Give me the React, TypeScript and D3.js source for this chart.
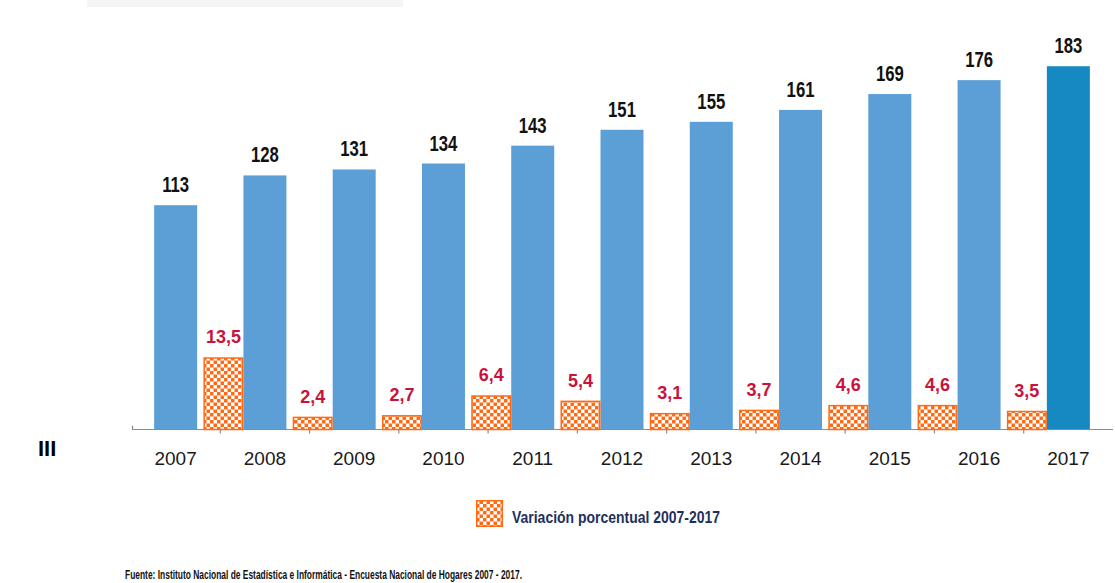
import React from "react";
import * as d3 from "d3";

const years = ["2007", "2008", "2009", "2010", "2011", "2012", "2013", "2014", "2015", "2016", "2017"];
const values = [113, 128, 131, 134, 143, 151, 155, 161, 169, 176, 183];
const variationYears = ["2008", "2009", "2010", "2011", "2012", "2013", "2014", "2015", "2016", "2017"];
const variations = [13.5, 2.4, 2.7, 6.4, 5.4, 3.1, 3.7, 4.6, 4.6, 3.5];
const legendLabel = "Variación porcentual 2007-2017";
const source = "Fuente: Instituto Nacional de Estadística e Informática - Encuesta Nacional de Hogares 2007 - 2017.";

const W = 1115;
const H = 583;
const baseY = 429.5;
const sans = "'Liberation Sans', Arial, sans-serif";

const fmt = (v: number) => v.toFixed(1).replace(".", ",");

export default function App() {
  const x = d3.scaleBand<string>().domain(years).range([131, 1113]).padding(0);
  const yMain = d3.scaleLinear().domain([0, 200]).range([baseY, baseY - 397]);
  const yVar = d3.scaleLinear().domain([0, 20]).range([baseY, baseY - 107]);
  const blueW = 43;
  const orangeW = 40;
  const center = (yr: string) => (x(yr) as number) + x.bandwidth() / 2;
  const boundaries = years.slice(1).map((yr) => x(yr) as number);

  return (
    <svg width={W} height={H} style={{ position: "absolute", left: 0, top: 0, background: "#fff" }}>
      <defs>
        <pattern id="checker" width={7} height={7} patternUnits="userSpaceOnUse">
          <rect width={7} height={7} fill="#ffffff" />
          <rect width={3.5} height={3.5} fill="#ff6a13" />
          <rect x={3.5} y={3.5} width={3.5} height={3.5} fill="#ff6a13" />
        </pattern>
      </defs>
      <rect x={87} y={0} width={316} height={7} fill="#f5f5f5" />

      {years.map((yr, i) => {
        const cx = center(yr);
        const top = yMain(values[i]);
        return (
          <g key={yr}>
            <rect
              x={cx - blueW / 2}
              y={top}
              width={blueW}
              height={baseY - top}
              fill={yr === "2017" ? "#1789c2" : "#5b9fd6"}
            />
            <text
              transform={`translate(${cx},${top - 13}) scale(0.76,1)`}
              textAnchor="middle"
              fontFamily={sans}
              fontWeight="bold"
              fontSize={22}
              fill="#111"
            >
              {values[i]}
            </text>
          </g>
        );
      })}

      {variationYears.map((yr, i) => {
        const left = center(yr) - blueW / 2 - orangeW;
        const top = yVar(variations[i]);
        return (
          <g key={"v" + yr}>
            <rect
              x={left + 0.75}
              y={top + 0.75}
              width={orangeW - 1.5}
              height={baseY - top - 0.75}
              fill="url(#checker)"
              stroke="#ff6a13"
              strokeWidth={1.5}
            />
            <text
              x={left + orangeW / 2}
              y={top - 14}
              textAnchor="middle"
              fontFamily={sans}
              fontWeight="bold"
              fontSize={18}
              fill="#c8143c"
            >
              {fmt(variations[i])}
            </text>
          </g>
        );
      })}

      <line x1={132} x2={1113} y1={baseY} y2={baseY} stroke="#8c8c8c" strokeWidth={1.2} />
      <line x1={132.5} x2={132.5} y1={baseY - 4} y2={baseY} stroke="#8c8c8c" strokeWidth={1.2} />
      {boundaries.map((bx, i) => (
        <line key={"t" + i} x1={bx} x2={bx} y1={baseY} y2={baseY + 4} stroke="#8c8c8c" strokeWidth={1.2} />
      ))}

      {years.map((yr) => (
        <text
          key={"l" + yr}
          x={center(yr)}
          y={465}
          textAnchor="middle"
          fontFamily={sans}
          fontSize={19}
          fill="#1a1a1a"
        >
          {yr}
        </text>
      ))}

      <rect x={476.75} y={500.75} width={25.5} height={25.5} fill="url(#checker)" stroke="#ff6a13" strokeWidth={1.5} />
      <text
        x={512}
        y={523}
        fontFamily={sans}
        fontWeight="bold"
        fontSize={16}
        fill="#1f3060"
        textLength={208}
        lengthAdjust="spacingAndGlyphs"
      >
        {legendLabel}
      </text>

      <text
        x={125}
        y={579}
        fontFamily={sans}
        fontWeight="bold"
        fontSize={13}
        fill="#111"
        textLength={397}
        lengthAdjust="spacingAndGlyphs"
      >
        {source}
      </text>

      <text x={38} y={456} fontFamily={sans} fontWeight="bold" fontSize={22} fill="#000">
        III
      </text>
    </svg>
  );
}
